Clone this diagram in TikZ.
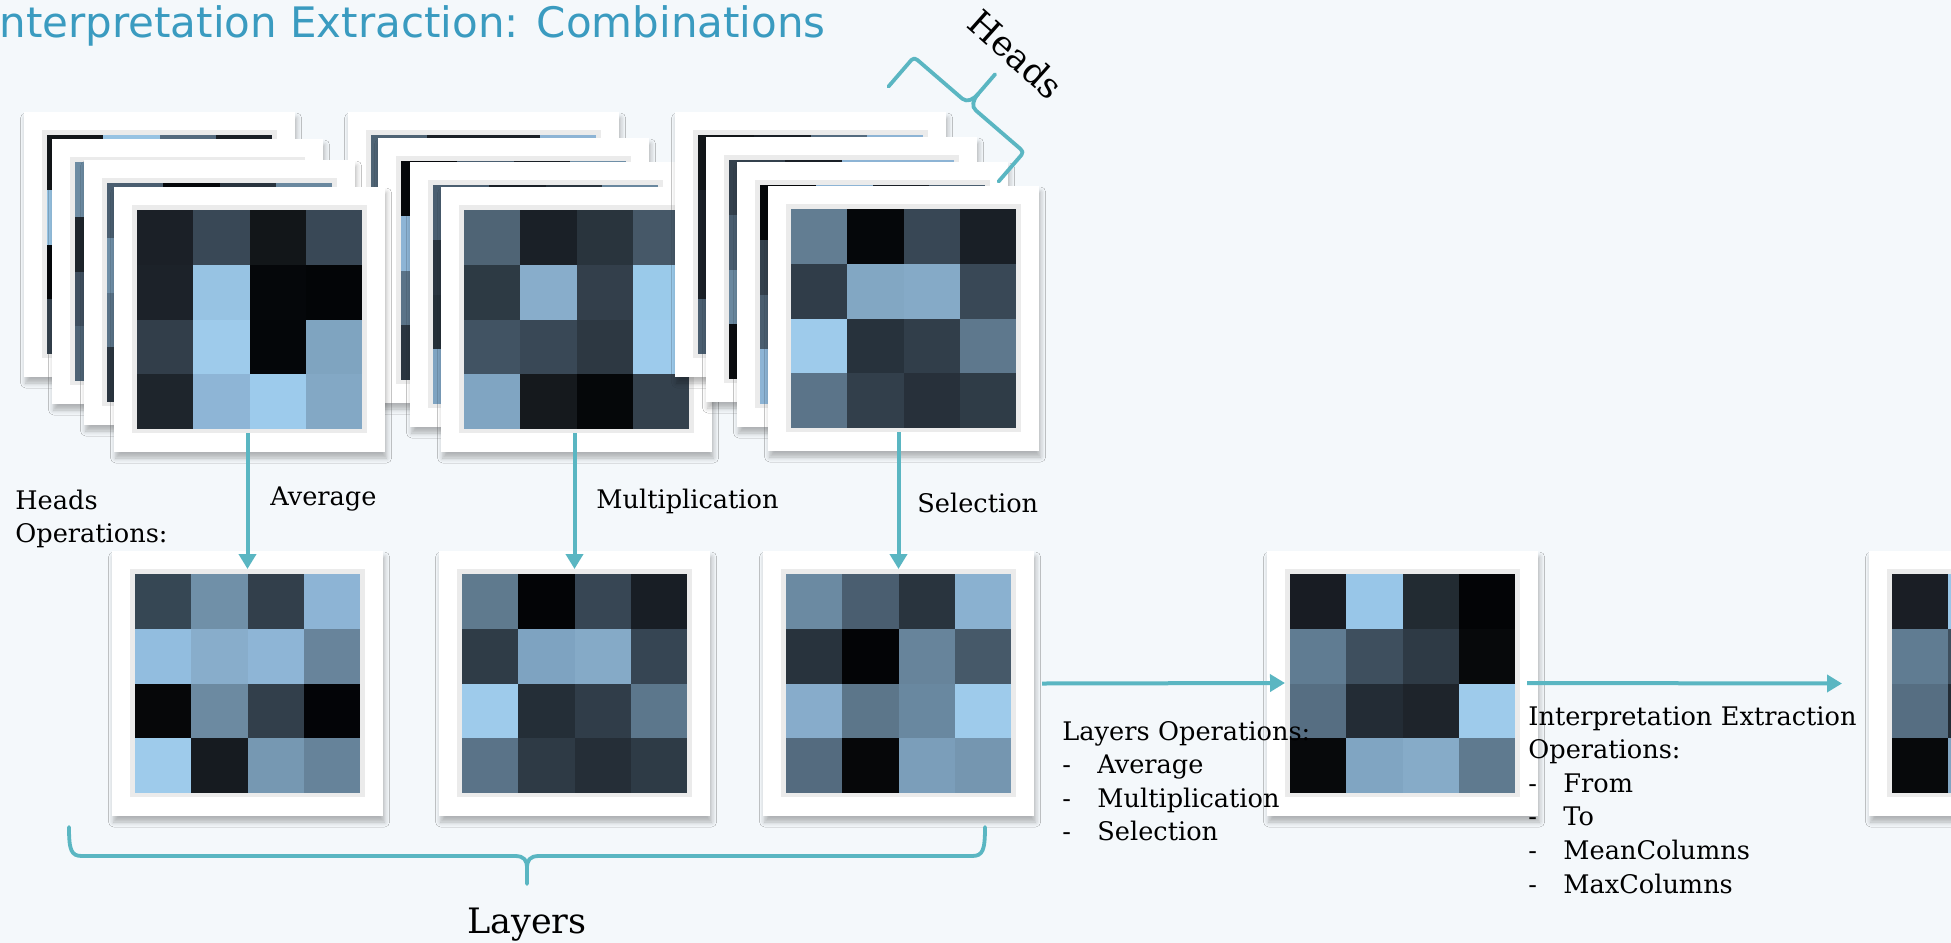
\documentclass[tikz,border=0pt]{standalone}
\usepackage{fontspec}
\setmainfont{DejaVu Serif}
\newfontfamily\titlefont{DejaVu Sans}
\usetikzlibrary{arrows.meta,shadows.blur,calc}
\definecolor{bgc}{HTML}{F4F8FB}
\definecolor{teal1}{HTML}{5AB6C2}
\definecolor{titlec}{HTML}{3A9BC0}
\definecolor{innerg}{HTML}{EBEBEB}
\newcommand\cellgrid[3]{%
  \foreach \cc [count=\ii from 0] in {#3}{%
    \pgfmathtruncatemacro\cx{mod(\ii,4)}%
    \pgfmathtruncatemacro\cy{\ii/4}%
    \definecolor{tmpc}{HTML}{\cc}%
    \fill[tmpc] ({#1+\cx*56.25},{#2+\cy*54.75}) rectangle ++(56.25,54.75);
  }}
\newcommand\pframe[4]{%
  \node[pframe] (#1) at (#2,#3) {};
  \node[pinner] (#1-in) at ({#2+18},{#3+18}) {};
  \cellgrid{#2+23}{#3+23}{#4}}
\newcommand\dsh{\makebox[17.5pt][l]{-}}
\tikzset{
  pframe/.style={fill=white, inner sep=0pt, outer sep=0pt, minimum width=135.5pt, minimum height=132.5pt, anchor=north west,
    blur shadow={shadow xshift=0.8pt, shadow yshift=-3pt, shadow blur radius=2.5pt, shadow opacity=28}},
  pinner/.style={fill=innerg, inner sep=0pt, outer sep=0pt, minimum width=117.5pt, minimum height=114pt, anchor=north west},
  arr/.style={draw=teal1, line width=2pt, -{Triangle[width=8.5pt,length=7.5pt]}},
  brace/.style={draw=teal1, line width=1.9pt, line join=round, line cap=round},
  lbl/.style={font=\fontsize{12.8}{16.8}\selectfont, inner sep=0pt, anchor=base west},
  lst/.style={lbl, text width=200pt, align=left},
  big/.style={font=\fontsize{17.5}{21}\selectfont, inner sep=0pt},
  titlenode/.style={font=\titlefont\fontsize{21}{25}\selectfont, text=titlec, inner sep=0pt, anchor=base west},
}
\begin{document}
\begin{tikzpicture}[x=0.5pt,y=-0.5pt]
\fill[bgc] (0,0) rectangle (1951,943);
\useasboundingbox (0,0) rectangle (1951,943);
% stack 2 (behind)
\pframe{s2a}{348}{112}{4F6475,1A2027,1A2027,8DB4D5,3E4F5E,97C3E3,2A3540,121619,5A7388,05070A,6A889F,34414D,2E3A45,80A5C2,1E252C,4A5E70}
\pframe{s2b}{378}{138}{05070A,4A5E70,1A2027,6F8FA7,8DB4D5,2E3A45,97C3E3,121619,5A7388,1E252C,3F4F5F,7EA3C1,2A3540,6A889F,05070A,34414D}
\pframe{s2c}{410}{162}{4A5E70,1A2027,29343E,6A889F,2A3540,8DB4D5,121619,5A7388,253039,97C3E3,3E4F5E,1E252C,7EA3C1,05070A,34414D,6F8FA7}
\pframe{s2d}{441}{187}{4F6475,1A2027,29343D,465868,2D3A44,88ADCB,333F4B,9ACAEA,415363,394856,2D3842,9DCBEC,80A5C2,15191D,050709,34414D}
% stack 1
\pframe{s1a}{24}{112}{121619,97C3E3,546B7F,1A2027,97C3E3,2E3A45,1A2027,5A7388,05070A,6A889F,8DB4D5,2A3540,34414D,1E252C,4A5E70,80A5C2}
\pframe{s1b}{52}{139}{6D8CA3,1A2027,8DB4D5,34414D,1E252C,5A7388,05070A,7EA3C1,3F4F5F,97C3E3,2E3A45,1A2027,4E6375,29343E,6A889F,121619}
\pframe{s1c}{84}{160}{4A5E70,05070A,29343E,6A889F,6F8FA7,1E252C,8DB4D5,34414D,5A7388,97C3E3,121619,4E6375,2A3540,7EA3C1,3F4F5F,1A2027}
\pframe{s1d}{114}{187}{1B2027,394856,121619,394856,1C2229,97C3E3,05070A,030507,323E4A,9ECBEB,040609,7FA4C0,1E252C,8EB5D6,9DCBEC,83A8C5}
% stack 3
\pframe{s3a}{675}{112}{121619,1A2027,546B7F,8DB4D5,1A2027,6A889F,2E3A45,05070A,1A2027,97C3E3,34414D,5A7388,4A5E70,1E252C,80A5C2,2A3540}
\pframe{s3b}{706}{137}{34414D,1A2027,8DB4D5,8DB4D5,4A5E70,05070A,5A7388,2E3A45,6A889F,2A3540,97C3E3,121619,0A0C0F,7EA3C1,1E252C,3F4F5F}
\pframe{s3c}{737}{162}{05070A,8DB4D5,1A2027,4A5E70,34414D,6F8FA7,121619,97C3E3,4A5E70,1E252C,5A7388,2A3540,8DB4D5,3F4F5F,05070A,6A889F}
\pframe{s3d}{768}{186}{627D92,05070A,384755,191F26,303D49,82A7C3,85AAC7,394856,9ECBEB,27323C,313E4A,5E788D,5B7489,323F4B,27303A,2F3C47}
% bottom row
\pframe{b1}{112}{551}{364754,7090A8,323F4B,8DB4D5,92BDDF,88ADCB,8EB5D6,68849B,060709,6C8AA1,323F4B,030407,9ECBEB,161B20,7698B2,66839A}
\pframe{b2}{439}{551}{5F7A8E,030406,374654,181E25,2F3C47,7EA3C1,85AAC7,364553,9ECBEB,242E37,303D49,5C778C,5A7388,2E3A45,252E37,2E3B46}
\pframe{b3}{763}{551}{6B8AA2,4A5E70,29343E,8AB1D0,28333D,030406,67849B,465969,87ACCB,5C768A,6988A0,9ECBEB,546B7F,060709,7B9EBA,7596B0}
\pframe{b4}{1267}{551}{181C23,98C6E8,222B32,030406,607C92,3E4F5E,2E3A45,07090B,566E82,232C35,1E242B,9ECBEB,07090B,80A5C2,86ABC8,5F7A8F}
\pframe{b5}{1869}{551}{1A1E25,98C6E8,222B32,030406,607C92,3E4F5E,2E3A45,07090B,566E82,232C35,1E242B,9ECBEB,07090B,80A5C2,86ABC8,5F7A8F}
% arrows
\draw[arr] (s1d-in.south -| b1-in.north) -- (b1-in.north);
\draw[arr] (s2d-in.south -| b2-in.north) -- (b2-in.north);
\draw[arr] (s3d-in.south -| b3-in.north) -- (b3-in.north);
\draw[arr] ([xshift=4pt]b3.east) -- (b4-in.west);
\draw[arr] ([xshift=3.5pt]b4-in.east) -- ([xshift=-13.5pt]b5.west);
% layers brace
\draw[brace] (69,827) .. controls (69,850) and (71,856) .. (82,856) -- (515,856) .. controls (524,856) and (527,860) .. (527,868) -- (527,884);
\draw[brace] (527,868) .. controls (527,860) and (530,856) .. (539,856) -- (972,856) .. controls (983,856) and (985,850) .. (985,827);
% heads brace
\begin{scope}[shift={(969,104.5)}, rotate=-40.8]
\draw[brace] (-72.7,39) -- (-72.7,4) .. controls (-72.7,1) and (-71,0) .. (-68,0) -- (-9,0) .. controls (-3,0) and (0,-6) .. (0,-14) -- (0,-40);
\draw[brace] (0,-14) .. controls (0,-6) and (3,0) .. (9,0) -- (68,0) .. controls (71,0) and (72.7,1) .. (72.7,4) -- (72.7,39);
\end{scope}
% texts
\node[titlenode] (title) at (-1,37) {nterpretation Extraction: Combinations};
\node[lst] (hops) at (15,509) {Heads\\Operations:};
\node[lbl] (lavg) at (270,505) {Average};
\node[lbl] (lmul) at (596,508) {Multiplication};
\node[lbl] (lsel) at (917,512) {Selection};
\node[lst] (lops) at (1062,740) {Layers Operations:\\\dsh Average\\\dsh Multiplication\\\dsh Selection};
\node[lst] (ieops) at (1528,725) {Interpretation Extraction\\Operations:\\\dsh From\\\dsh To\\\dsh MeanColumns\\\dsh MaxColumns};
\node[big, anchor=base] (layers) at (527,933) {Layers};
\node[big, rotate=-41.7] (heads) at (1016,54) {Heads};
\end{tikzpicture}
\end{document}
